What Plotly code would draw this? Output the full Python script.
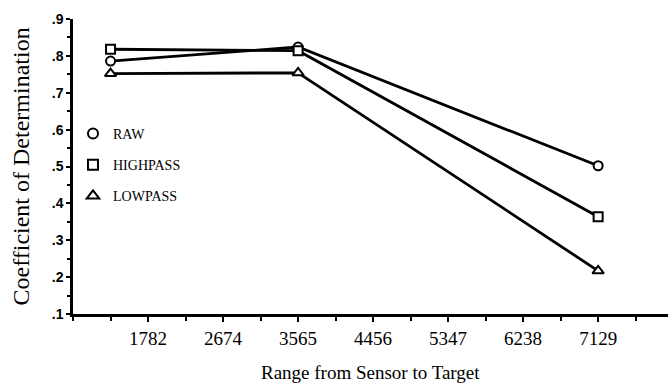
import plotly.graph_objects as go

ranges = [1337, 3565, 7129]
raw = [0.786, 0.824, 0.502]
highpass = [0.818, 0.814, 0.364]
lowpass = [0.752, 0.754, 0.217]
series_names = ["RAW", "HIGHPASS", "LOWPASS"]
x_tickvals = [1782, 2674, 3565, 4456, 5347, 6238, 7129]
x_ticktext = ["1782", "2674", "3565", "4456", "5347", "6238", "7129"]
y_tickvals = [0.1, 0.2, 0.3, 0.4, 0.5, 0.6, 0.7, 0.8, 0.9]
y_ticktext = [".1", ".2", ".3", ".4", ".5", ".6", ".7", ".8", ".9"]

symbols = ["circle", "square", "triangle-up"]
sizes = [9, 9, 10]
fig = go.Figure()
for name, vals, sym, sz in zip(series_names, [raw, highpass, lowpass], symbols, sizes):
    fig.add_trace(go.Scatter(
        x=ranges, y=vals, mode="lines+markers", showlegend=False,
        line=dict(color="black", width=2.8),
        marker=dict(symbol=sym, size=sz, color="white", line=dict(color="black", width=2)),
        cliponaxis=False,
    ))
for name, sym, sz in zip(series_names, symbols, sizes):
    fig.add_trace(go.Scatter(
        x=[None], y=[None], mode="markers", name=name, legendgroup=name,
        marker=dict(symbol=sym, size=sz + 1, color="white", line=dict(color="black", width=2)),
    ))

fig.update_layout(
    width=669, height=383,
    margin=dict(l=73, r=1, t=19, b=69),
    paper_bgcolor="white", plot_bgcolor="white",
    font=dict(family="Liberation Serif", color="black"),
    legend=dict(
        x=0.0, y=0.665, xanchor="left", yanchor="top",
        bgcolor="rgba(0,0,0,0)", font=dict(family="Liberation Serif", size=14, color="black"),
        itemwidth=30, tracegroupgap=10, traceorder="grouped",
    ),
    xaxis=dict(
        range=[891, 7959], showgrid=False, zeroline=False, automargin=False,
        showline=True, linecolor="black", linewidth=2.5,
        tickmode="array", tickvals=x_tickvals, ticktext=x_ticktext,
        ticks="outside", ticklen=5, tickwidth=2, tickcolor="black",
        tickfont=dict(family="Liberation Serif", size=19, color="black"),
        ticklabelstandoff=0,
        minor=dict(tickmode="linear", tick0=891, dtick=445.5, ticks="outside",
                   ticklen=4, tickwidth=2, tickcolor="black"),
    ),
    yaxis=dict(
        range=[0.1, 0.9], showgrid=False, zeroline=False, automargin=False,
        showline=True, linecolor="black", linewidth=2.5,
        tickmode="array", tickvals=y_tickvals, ticktext=y_ticktext,
        ticks="outside", ticklen=4, tickwidth=2, tickcolor="black",
        tickfont=dict(family="Liberation Sans", size=14, color="black", weight="bold"),
        ticklabelstandoff=0,
        minor=dict(tickmode="linear", tick0=0.1, dtick=0.05, ticks="outside",
                   ticklen=3, tickwidth=2, tickcolor="black"),
    ),
    annotations=[
        dict(text="Range from Sensor to Target", xref="paper", yref="paper",
             x=0.5, y=0, yshift=-58, xanchor="center", yanchor="middle", showarrow=False,
             font=dict(family="Liberation Serif", size=19, color="black")),
        dict(text="Coefficient of Determination", xref="paper", yref="paper",
             x=0, y=0.5, xshift=-53, xanchor="center", yanchor="middle", textangle=-90,
             showarrow=False, font=dict(family="Liberation Serif", size=24, color="black")),
    ],
)
fig.write_html("out.html", config={"displayModeBar": False},
               post_script="document.body.style.margin='0';document.body.style.overflow='hidden';")
